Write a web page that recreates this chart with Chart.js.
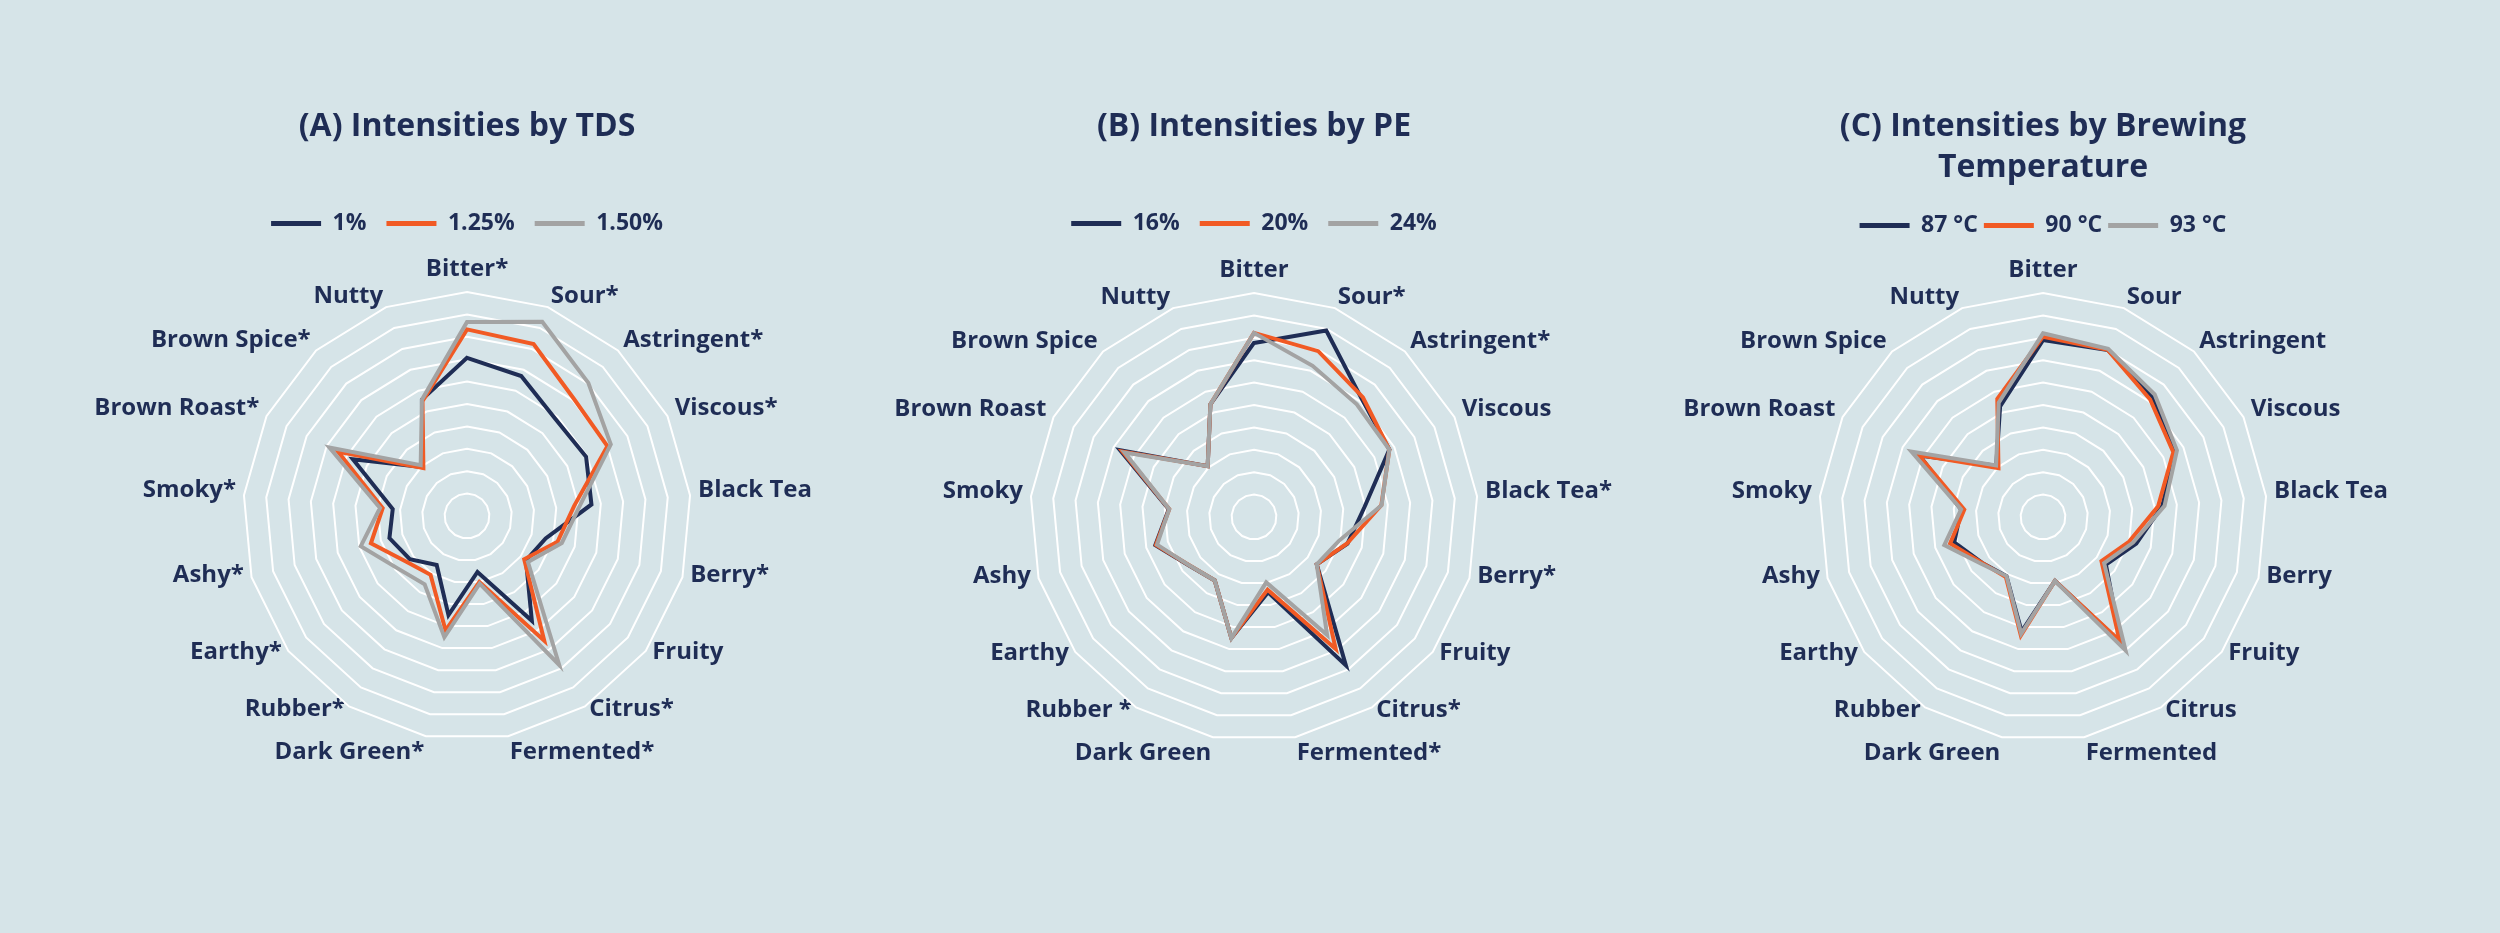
<!DOCTYPE html>
<html>
<head>
<meta charset="utf-8">
<title>Sensory intensities</title>
<script src="https://cdn.jsdelivr.net/npm/chart.js@4.4.1/dist/chart.umd.min.js"></script>
<style>
  html, body { margin: 0; padding: 0; background: #d6e4e8; }
  #wrap { position: relative; width: 2500px; height: 933px; overflow: hidden; }
  .panel { position: absolute; top: 0; width: 780px; height: 933px; }
</style>
</head>
<body>
<div id="wrap">
  <div class="panel" style="left:77px"><canvas id="chartA"></canvas></div>
  <div class="panel" style="left:864px"><canvas id="chartB"></canvas></div>
  <div class="panel" style="left:1653px"><canvas id="chartC"></canvas></div>
</div>
<script>
// attribute names, clockwise from the top
const attrsA = ['Bitter*', 'Sour*', 'Astringent*', 'Viscous*', 'Black Tea', 'Berry*', 'Fruity', 'Citrus*', 'Fermented*',
  'Dark Green*', 'Rubber*', 'Earthy*', 'Ashy*', 'Smoky*', 'Brown Roast*', 'Brown Spice*', 'Nutty'];
const attrsB = ['Bitter', 'Sour*', 'Astringent*', 'Viscous', 'Black Tea*', 'Berry*', 'Fruity', 'Citrus*', 'Fermented*',
  'Dark Green', 'Rubber *', 'Earthy', 'Ashy', 'Smoky', 'Brown Roast', 'Brown Spice', 'Nutty'];
const attrsC = ['Bitter', 'Sour', 'Astringent', 'Viscous', 'Black Tea', 'Berry', 'Fruity', 'Citrus', 'Fermented',
  'Dark Green', 'Rubber', 'Earthy', 'Ashy', 'Smoky', 'Brown Roast', 'Brown Spice', 'Nutty'];

// (A) TDS
const tdsLabels = ['1%', '1.25%', '1.50%'];
const tds100 = [7.06, 6.7, 5.86, 5.94, 5.58, 3.65, 3.3, 5.5, 2.54, 4.5, 2.57, 3.2, 3.6, 3.33, 5.69, 2.96, 5.57];
const tds125 = [8.33, 8.23, 7.08, 7.0, 4.8, 4.2, 3.2, 6.55, 3.0, 5.2, 3.09, 3.39, 4.46, 3.78, 6.42, 2.89, 5.5];
const tds150 = [8.66, 9.3, 8.04, 7.17, 5.06, 4.4, 3.41, 7.82, 3.07, 5.5, 3.59, 3.88, 4.93, 3.9, 6.86, 3.07, 5.57];

// (B) PE
const peLabels = ['16%', '20%', '24%'];
const pe16 = [7.77, 8.93, 7.14, 6.75, 4.96, 4.34, 3.51, 7.79, 3.42, 5.5, 3.33, 3.61, 4.58, 3.82, 6.68, 3.07, 5.39];
const pe20 = [8.22, 7.94, 7.22, 6.75, 5.71, 4.32, 3.51, 6.93, 3.3, 5.5, 3.33, 3.6, 4.55, 3.8, 6.55, 3.07, 5.39];
const pe24 = [8.22, 7.24, 6.81, 6.75, 5.72, 3.93, 3.51, 6.2, 2.97, 5.5, 3.33, 3.6, 4.5, 3.8, 6.45, 3.07, 5.39];

// (C) brewing temperature
const tempLabels = ['87 °C', '90 °C', '93 °C'];
const temp87 = [7.9, 8.0, 7.26, 6.6, 5.35, 4.33, 3.52, 6.6, 2.9, 5.2, 3.1, 3.4, 4.12, 3.67, 6.16, 3.1, 5.3];
const temp90 = [8.05, 8.0, 7.1, 6.5, 5.16, 4.0, 3.27, 6.5, 2.9, 5.38, 3.15, 3.4, 4.31, 3.53, 6.2, 2.95, 5.65];
const temp93 = [8.2, 8.05, 7.4, 6.68, 5.45, 4.18, 3.42, 7.0, 2.9, 5.29, 3.1, 3.46, 4.58, 3.67, 6.56, 3.11, 5.47];

const NAVY = '#1f2d55';
const ORANGE = '#f15a24';
const GREY = '#a3a3a3';

Chart.defaults.font.family = "'Open Sans', sans-serif";
Chart.defaults.color = NAVY;

function series(label, data, color, order) {
  return {
    label: label,
    data: data,
    borderColor: color,
    backgroundColor: color,
    borderWidth: 4,
    pointRadius: 0,
    pointHoverRadius: 0,
    fill: false,
    order: order
  };
}

// Pin the radar to a fixed centre / radius and put the side labels level with their spoke
function placeRadar(cx, cy, radius) {
  return function (scale) {
    scale.xCenter = cx;
    scale.yCenter = cy;
    scale.drawingArea = radius;
    const pad = scale.options.pointLabels.padding;
    (scale._pointLabelItems || []).forEach((item, i) => {
      const p = scale.getPointPosition(i, radius + pad);
      const w = item.right - item.left;
      const h = item.bottom - item.top;
      const deg = Math.round(scale.getIndexAngle(i) * 180 / Math.PI);
      let top;
      if (deg === 0) top = p.y - h;
      else if (Math.abs(deg - 180) < 15) top = p.y - 6;
      else top = p.y - h / 2 - 4;
      let left = p.x;
      if (item.textAlign === 'center') left = p.x - w / 2;
      else if (item.textAlign === 'right') left = p.x - w;
      Object.assign(item, { x: p.x, y: top, left: left, right: left + w, top: top, bottom: top + h });
    });
  };
}

// legend swatches are drawn a little heavier than the plotted lines
function legendItems(chart) {
  return Chart.defaults.plugins.legend.labels.generateLabels(chart).map(item => Object.assign(item, { lineWidth: 5 }));
}

function createRadar(id, title, labels, names, sets, center, titlePadBottom, legendGap) {
  const ctx = document.getElementById(id).getContext('2d');
  return new Chart(ctx, {
    type: 'radar',
    data: {
      labels: labels,
      datasets: [
        series(names[0], sets[0], NAVY, 3),
        series(names[1], sets[1], ORANGE, 2),
        series(names[2], sets[2], GREY, 1)
      ]
    },
    options: {
      responsive: true,
      maintainAspectRatio: false,
      animation: false,
      layout: { padding: 0 },
      elements: { line: { tension: 0 } },
      plugins: {
        title: {
          display: true,
          text: title,
          color: NAVY,
          font: { size: 32, weight: 'bold', lineHeight: 1.28 },
          padding: { top: 106, bottom: titlePadBottom }
        },
        legend: {
          display: true,
          labels: {
            usePointStyle: true,
            pointStyle: 'line',
            pointStyleWidth: 50,
            padding: legendGap,
            color: NAVY,
            font: { size: 23, weight: 'bold' },
            generateLabels: legendItems,
            sort: (a, b) => a.datasetIndex - b.datasetIndex
          }
        },
        tooltip: { enabled: false }
      },
      scales: {
        r: {
          min: 0,
          max: 10,
          ticks: { display: false, stepSize: 1 },
          grid: { color: '#ffffff', lineWidth: 2 },
          angleLines: { display: false },
          pointLabels: {
            color: NAVY,
            padding: 8,
            font: { size: 24, weight: 'bold' }
          },
          afterFit: placeRadar(center[0], center[1], center[2])
        }
      }
    }
  });
}

createRadar('chartA', '(A) Intensities by TDS', attrsA, tdsLabels, [tds100, tds125, tds150], [390, 516, 224], 45, 20);
createRadar('chartB', '(B) Intensities by PE', attrsB, peLabels, [pe16, pe20, pe24], [390, 517, 224], 45, 20);
createRadar('chartC', ['(C) Intensities by Brewing', 'Temperature'], attrsC, tempLabels, [temp87, temp90, temp93], [390, 517, 224], 20, 6);
</script>
</body>
</html>
